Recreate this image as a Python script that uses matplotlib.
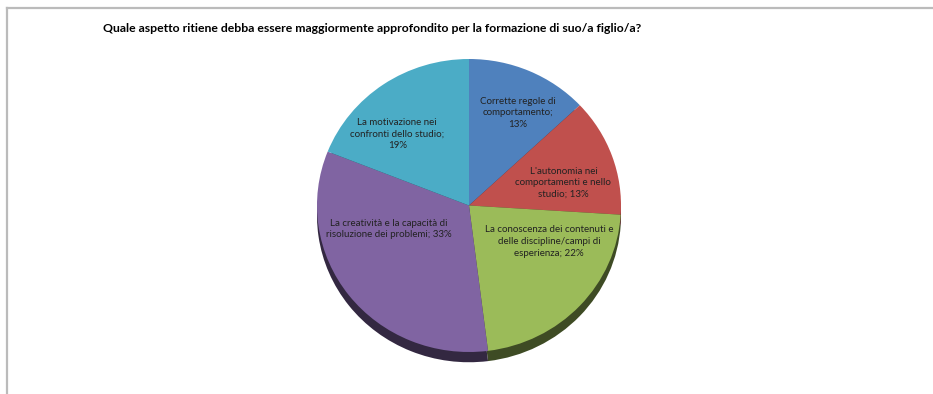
import numpy as np
import matplotlib.pyplot as plt
from matplotlib.lines import Line2D
from matplotlib.colors import to_rgb

# Dati del grafico
etichette = [
    "Corrette regole di\ncomportamento;",
    "L'autonomia nei\ncomportamenti e nello\nstudio;",
    "La conoscenza dei contenuti e\ndelle discipline/campi di\nesperienza;",
    "La creatività e la capacità di\nrisoluzione dei problemi;",
    "La motivazione nei\nconfronti dello studio;",
]
percentuali = [13, 13, 22, 33, 19]
colori = ["#4F81BD", "#C0504D", "#9BBB59", "#8064A2", "#4BACC6"]
titolo = "Quale aspetto ritiene debba essere maggiormente approfondito per la formazione di suo/a figlio/a?"

# posizione delle etichette: (frazione del raggio, angolo in gradi)
pos_etichette = [(0.71, 63), (0.64, 14), (0.58, -25), (0.55, -163), (0.68, 134)]
# separatore tra testo e percentuale (a capo o spazio)
sep = ["\n", " ", " ", " ", "\n"]

W, H = 933, 394
cx, cy = 469, 188.5      # centro torta in pixel (dal basso)
rx, ry = 152, 146.5      # semiassi in pixel
spessore = 0.07          # profondità effetto 3D
font = ["Lato", "DejaVu Sans"]

fig = plt.figure(figsize=(W / 100, H / 100), dpi=100)
ax = fig.add_axes([0, 0, 1, 1])

# bordo inferiore scuro (effetto 3D)
scuri = [tuple(c * 0.4 for c in to_rgb(col)) for col in colori]
ax.pie(percentuali, colors=scuri, startangle=90, counterclock=False,
       center=(0, -spessore), radius=1, frame=True,
       wedgeprops=dict(linewidth=0))
ax.pie(percentuali, colors=colori, startangle=90, counterclock=False,
       center=(0, 0), radius=1, frame=True,
       wedgeprops=dict(linewidth=0))
ax.set_aspect("auto")
ax.set_xlim(-cx / rx, (W - cx) / rx)
ax.set_ylim(-cy / ry, (H - cy) / ry)
ax.axis("off")

for testo, p, s, (r, ang) in zip(etichette, percentuali, sep, pos_etichette):
    a = np.deg2rad(ang)
    ax.text(r * np.cos(a), r * np.sin(a), f"{testo}{s}{p}%",
            ha="center", va="center", fontsize=7.0, linespacing=1.4,
            family=font, color="#222222")

fig.text(103 / W, 1 - 28 / H, titolo, ha="left", va="center",
         fontsize=8.8, fontweight="bold", family=font, color="black")

# cornice grigia in alto e a sinistra
fig.add_artist(Line2D([7.5 / W, 1], [1 - 7.5 / H] * 2, color="#BBBBBB", lw=1.6))
fig.add_artist(Line2D([7.5 / W] * 2, [0, 1 - 7.5 / H], color="#BBBBBB", lw=1.6))

fig.savefig("out.png", dpi=100)
